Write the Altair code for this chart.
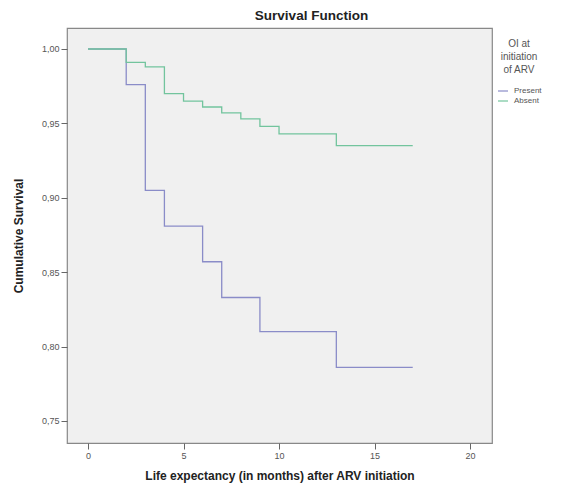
import altair as alt
import pandas as pd

# Kaplan-Meier step data
present_t = [0, 2, 3, 4, 6, 7, 9, 13, 17]
present_s = [1.0, 0.976, 0.905, 0.881, 0.857, 0.833, 0.810, 0.786, 0.786]
absent_t = [0, 2, 3, 4, 5, 6, 7, 8, 9, 10, 13, 17]
absent_s = [1.0, 0.991, 0.988, 0.970, 0.965, 0.961, 0.957, 0.953, 0.948, 0.943, 0.935, 0.935]

groups = ["Present", "Absent"]
colors = ["#8a8cc8", "#72c49d"]
y_ticks = [0.75, 0.80, 0.85, 0.90, 0.95, 1.00]
x_ticks = [0, 5, 10, 15, 20]

df_p = pd.DataFrame({"t": present_t, "s": present_s, "g": "Present"})
df_a = pd.DataFrame({"t": absent_t, "s": absent_s, "g": "Absent"})

FONT = "Liberation Sans"

x = alt.X("t:Q", scale=alt.Scale(domain=[-1.1, 21.15], nice=False, zero=False),
          axis=alt.Axis(values=x_ticks, title="Life expectancy (in months) after ARV initiation",
                        grid=False, domain=False, tickSize=6, tickColor="#666",
                        labelColor="#555", labelFontSize=9, labelFont=FONT,
                        titleFont=FONT, titleFontSize=12, titleFontWeight="bold",
                        titleColor="#222", titlePadding=10, labelPadding=2))
y = alt.Y("s:Q", scale=alt.Scale(domain=[0.7352, 1.0141], nice=False, zero=False),
          axis=alt.Axis(values=y_ticks, title="Cumulative Survival",
                        labelExpr="replace(format(datum.value, '.2f'), '.', ',')",
                        grid=False, domain=False, tickSize=6, tickColor="#666",
                        labelColor="#555", labelFontSize=9, labelFont=FONT,
                        titleFont=FONT, titleFontSize=12, titleFontWeight="bold",
                        titleColor="#222", titlePadding=16, labelPadding=2))
color = alt.Color("g:N", scale=alt.Scale(domain=groups, range=colors),
                  legend=alt.Legend(title=["OI  at", "initiation", "of ARV"],
                                    orient="none", legendX=430, legendY=11,
                                    titleFont=FONT, titleFontSize=10, titleFontWeight="normal",
                                    titleColor="#555", titleAlign="center", titleAnchor="middle",
                                    titleLineHeight=13, titlePadding=10,
                                    labelFont=FONT, labelFontSize=8, labelColor="#555",
                                    labelOffset=5,
                                    symbolType="stroke", symbolSize=100, symbolStrokeWidth=1.2,
                                    rowPadding=0))

line_p = alt.Chart(df_p).mark_line(interpolate="step-after", strokeWidth=1.3).encode(x=x, y=y, color=color)
line_a = alt.Chart(df_a).mark_line(interpolate="step-after", strokeWidth=1.3).encode(x=x, y=y, color=color)

chart = alt.layer(line_p, line_a).properties(
    width=425, height=415,
    autosize=alt.AutoSizeParams(type="none"),
    padding={"left": 59, "top": 20, "right": 64, "bottom": 40},
    title=alt.TitleParams("Survival Function", font=FONT, fontSize=13.5, fontWeight="bold",
                          color="#222", anchor="middle", dx=32, offset=6),
).configure_view(fill="#f0f0f0", stroke="#888", strokeWidth=1.2)

chart.save("out.html", embed_options={"renderer": "svg", "actions": False})
